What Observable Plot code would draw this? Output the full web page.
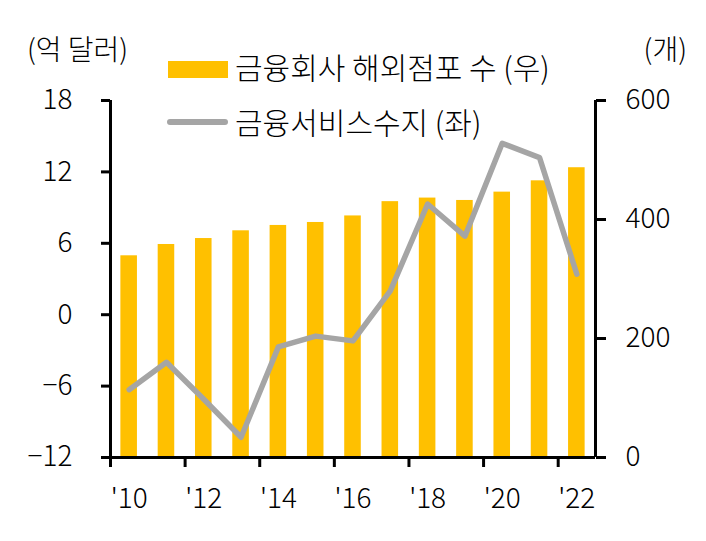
<!DOCTYPE html>
<html>
<head>
<meta charset="utf-8">
<script src="https://cdn.jsdelivr.net/npm/d3@7"></script>
<script src="https://cdn.jsdelivr.net/npm/@observablehq/plot@0.6"></script>
<style>
  html, body { margin: 0; padding: 0; background: #fff; }
  #wrap { position: relative; width: 706px; height: 541px; font-family: "Noto Sans CJK KR", sans-serif; font-weight: 300; color: #000; }
  .lbl { position: absolute; white-space: nowrap; line-height: 30px; }
  #chart svg text { font-weight: 300; }
</style>
</head>
<body>
<div id="wrap">
  <div id="chart"></div>
  <div class="lbl" style="left:27px; top:33px; font-size:28px;">(억 달러)</div>
  <div class="lbl" style="right:19px; top:33px; font-size:28px;">(개)</div>
  <div style="position:absolute; left:168px; top:61px; width:60px; height:17px; background:#FFC000;"></div>
  <div class="lbl" style="left:235px; top:51px; font-size:30px;">금융회사 해외점포 수 (우)</div>
  <div style="position:absolute; left:167px; top:119px; width:61px; height:6px; background:#A5A5A5; border-radius:3px;"></div>
  <div class="lbl" style="left:235px; top:106px; font-size:30px;">금융서비스수지 (좌)</div>
</div>
<script>
const years = [2010, 2011, 2012, 2013, 2014, 2015, 2016, 2017, 2018, 2019, 2020, 2021, 2022];
const branches = [339, 358, 368, 381, 390, 395, 406, 430, 436, 432, 446, 465, 487];
const balance = [-6.3, -4.0, -7.1, -10.3, -2.7, -1.8, -2.2, 2.0, 9.3, 6.6, 14.4, 13.2, 3.4];
const leftTicks = [-12, -6, 0, 6, 12, 18];
const rightTicks = [0, 200, 400, 600];
const xLabelYears = [2010, 2012, 2014, 2016, 2018, 2020, 2022];

const leftMin = leftTicks[0], leftMax = leftTicks[leftTicks.length - 1];
const rightMin = rightTicks[0], rightMax = rightTicks[rightTicks.length - 1];
const toLeft = v => leftMin + (v - rightMin) * (leftMax - leftMin) / (rightMax - rightMin);
const toRight = v => rightMin + (v - leftMin) * (rightMax - rightMin) / (leftMax - leftMin);

const data = years.map((year, i) => ({year, branches: branches[i], balance: balance[i]}));
const x0 = years[0] - 0.5, x1 = years[years.length - 1] + 0.5;
const halfBar = 0.222;

const chart = Plot.plot({
  width: 706,
  height: 541,
  marginLeft: 110,
  marginRight: 111,
  marginTop: 100,
  marginBottom: 84,
  style: {fontFamily: "'Noto Sans CJK KR', sans-serif", fontSize: "28px", color: "#000", background: "transparent"},
  x: {type: "linear", domain: [x0, x1], label: null},
  y: {domain: [leftMin, leftMax], label: null},
  marks: [
    Plot.rectY(data, {x1: d => d.year - halfBar, x2: d => d.year + halfBar, y1: leftMin, y2: d => toLeft(d.branches), fill: "#FFC000"}),
    Plot.line(data, {x: "year", y: "balance", stroke: "#A5A5A5", strokeWidth: 5.5}),
    Plot.ruleX([x0, x1], {y1: leftMin, y2: leftMax, stroke: "#000", strokeWidth: 3}),
    Plot.ruleY([leftMin], {stroke: "#000", strokeWidth: 3}),
    Plot.axisY({anchor: "left", ticks: leftTicks, tickSize: 9, tickPadding: 29, strokeWidth: 3, label: null}),
    Plot.axisY({anchor: "right", ticks: rightTicks.map(toLeft), tickSize: 10, tickPadding: 20, strokeWidth: 3, label: null,
      tickFormat: v => String(Math.round(toRight(v)))}),
    Plot.axisX({ticks: xLabelYears.map(y => y - 0.5), tickSize: 10, strokeWidth: 3, text: null, label: null}),
    Plot.axisX({ticks: xLabelYears, tickSize: 0, tickPadding: 31, label: null,
      tickFormat: d => "'" + String(d).slice(2)})
  ]
});
document.getElementById("chart").appendChild(chart);
</script>
</body>
</html>
